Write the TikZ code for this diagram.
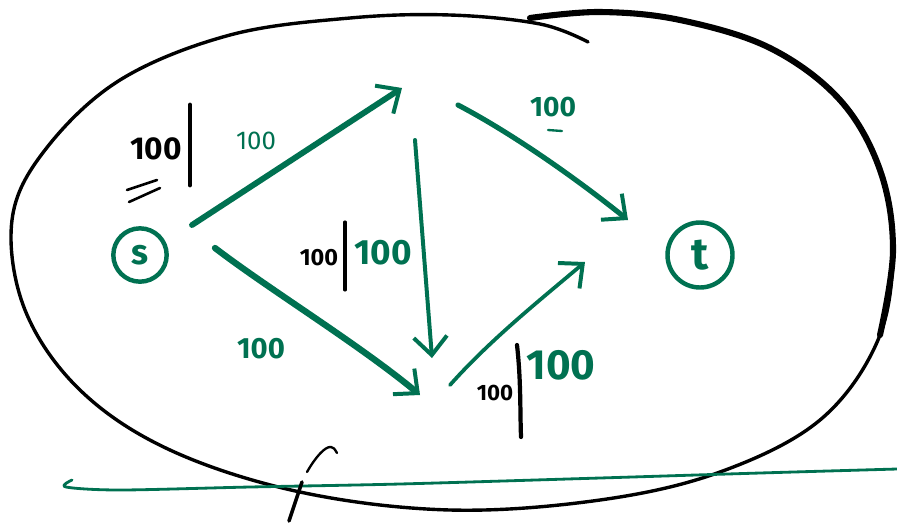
\documentclass[tikz,border=0pt]{standalone}
\usepackage{fontspec}
\setmainfont{Fira Sans}
\usetikzlibrary{arrows.meta}
\definecolor{pen}{RGB}{0,113,81}
\tikzset{
  vtx/.style={circle, draw=pen, line width=3.8pt, text=pen, inner sep=0pt},
  hub/.style={inner sep=0pt, minimum size=0pt},
  edge/.style={draw=pen, line cap=round, line join=round,
    -{Straight Barb[length=5.5mm, width=10mm, line width=3.4pt]}},
  glab/.style={text=pen, inner sep=0pt},
  blab/.style={text=black, inner sep=0pt},
  bar/.style={draw=black, line width=4.2pt, line cap=round},
  rim/.style={draw=black, line cap=round, line join=round},
}
\begin{document}
\begin{tikzpicture}[x=0.03cm, y=-0.03cm]
\useasboundingbox (0,0) rectangle (897,522);
% outer hand-drawn loop
\draw[rim, line width=2.9pt] plot[smooth, tension=0.6] coordinates {
 (588,42) (540,24) (450,15) (350,18) (230,35) (120,80) (45,150) (12,220)
 (25,310) (80,390) (170,450) (300,492) (450,510) (600,500) (720,472)
 (820,420) (878,340) (893,250) (880,170) (840,100) (770,48) (680,20) (600,12) (530,18)};
\draw[rim, line width=5.2pt] plot[smooth, tension=0.6] coordinates {
 (530,18) (600,12) (680,20) (770,48) (840,100) (880,170) (893,250) (880,335)};
% nodes
\node[vtx, minimum size=1.6cm, font=\fontsize{30}{30}\selectfont\bfseries] (s) at (140,255) {s};
\node[vtx, minimum size=1.95cm, font=\fontsize{38}{38}\selectfont\bfseries] (t) at (700,255) {t};
\node[hub] (u) at (415,100) {};
\node[hub] (v) at (425,380) {};
% edges
\draw[edge, line width=5pt] ([shift={(52,-30)}]s.center) -- ([shift={(-13,-12)}]u.center);
\draw[edge, line width=5.4pt] ([shift={(75,-7)}]s.center) .. controls (270,290) and (360,345) .. ([shift={(-5,15)}]v.center);
\draw[edge, line width=3.4pt] ([shift={(0,40)}]u.center) -- ([shift={(7,-22)}]v.center);
\draw[edge, line width=4.4pt] ([shift={(43,5)}]u.center) .. controls (515,135) and (578,180) .. ([shift={(-72,-35)}]t.center);
\draw[edge, line width=3.2pt] ([shift={(25,5)}]v.center) .. controls (490,340) and (540,300) .. ([shift={(-115,7)}]t.center);
% capacity / flow labels
\node[blab, font=\fontsize{27}{27}\selectfont\bfseries] (l1) at (156,149) {100};
\draw[bar] (190,105) -- (190,185);
\draw[black, line width=2.2pt, line cap=round] (127,190) -- (157,180);
\draw[black, line width=2.2pt, line cap=round] (129,202) -- (160,188);
\node[glab, font=\fontsize{22}{22}\selectfont] (l2) at (256,141) {100};
\node[glab, font=\fontsize{24}{24}\selectfont\bfseries] (l3) at (553,107) {100};
\draw[pen, line width=2pt, line cap=round] (548,130) -- (562,131);
\node[blab, font=\fontsize{20}{20}\selectfont\bfseries] (l4) at (319,258) {100};
\draw[black, line width=2.6pt, line cap=round] (345,222) -- (345,290);
\node[glab, font=\fontsize{30}{30}\selectfont\bfseries] (l5) at (383,253) {100};
\node[glab, font=\fontsize{25}{25}\selectfont\bfseries] (l6) at (261,349) {100};
\node[blab, font=\fontsize{19}{19}\selectfont\bfseries] (l7) at (495,393) {100};
\draw[black, line width=3.6pt, line cap=round] (517,345) .. controls (521,380) and (520,410) .. (521,437);
\node[glab, font=\fontsize{36}{36}\selectfont\bfseries] (l8) at (561,365) {100};
% bottom strokes
\draw[pen, line width=2.4pt, line cap=round] plot[smooth, tension=0.5] coordinates {
 (72,480) (66,487) (120,490) (250,487) (400,484) (600,478) (760,473) (897,469)};
\draw[black, line width=3pt, line cap=round] (302,482) -- (289,521);
\draw[black, line width=2pt, line cap=round] (307,472) .. controls (315,458) and (325,446) .. (331,447) .. controls (334,448) .. (337,453);
\end{tikzpicture}
\end{document}
